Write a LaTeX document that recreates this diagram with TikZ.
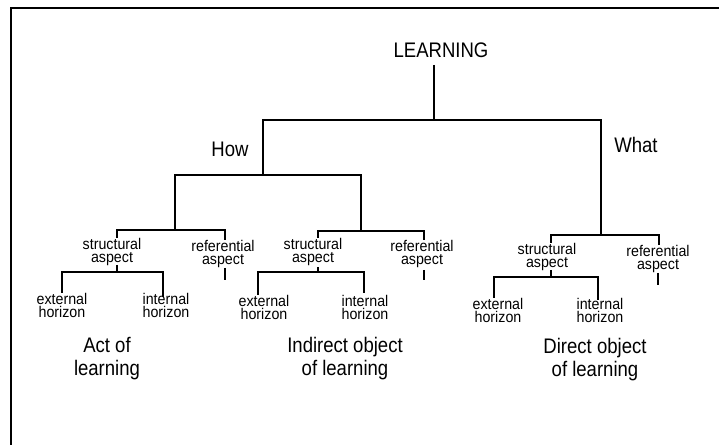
\documentclass[tikz,border=0pt]{standalone}
\usepackage{fontspec}
\setmainfont{Liberation Sans}
\newfontfamily\labelfont[FakeStretch=0.92]{Liberation Sans}
\newfontfamily\titlefont[FakeStretch=0.88]{Liberation Sans}
\begin{document}
\begin{tikzpicture}[x=0.75pt,y=-0.75pt,
  branch/.style={line width=1.4pt},
  frameline/.style={line width=1.9pt},
  small/.style={font=\labelfont\fontsize{11.6}{9.8}\selectfont, align=center, inner sep=0pt, anchor=north},
  big/.style={font=\titlefont\fontsize{15.8}{17.25}\selectfont, align=center, inner sep=0pt, anchor=north}]
\useasboundingbox (0,0) rectangle (719,445);
\fill[white] (0,0) rectangle (719,445);

% frame (top and left edges)
\draw[frameline] (11,445) |- (719,8);

% labels
\node[big] (learning) at (441,43) {LEARNING};
\node[big] (how) at (230,142) {How};
\node[big] (what) at (636,137) {What};

\node[small] (s1) at (112,238) {structural\\aspect};
\node[small] (r1) at (223,240) {referential\\aspect};
\node[small] (e1) at (62,293) {external\\horizon};
\node[small] (i1) at (166,293) {internal\\horizon};
\node[big] (act) at (107,337) {Act of\\learning};

\node[small] (s2) at (313,238) {structural\\aspect};
\node[small] (r2) at (422,240) {referential\\aspect};
\node[small] (e2) at (264,295) {external\\horizon};
\node[small] (i2) at (365,295) {internal\\horizon};
\node[big] (indirect) at (345,337) {Indirect object\\of learning};

\node[small] (s3) at (547,243) {structural\\aspect};
\node[small] (r3) at (658,245) {referential\\aspect};
\node[small] (e3) at (498,298) {external\\horizon};
\node[small] (i3) at (600,298) {internal\\horizon};
\node[big] (direct) at (595,338) {Direct object\\of learning};

% junctions and line ends
\coordinate (L0) at (434,65);
\coordinate (J0) at (434,120);
\coordinate (Hw) at (263,175);
\coordinate (Wt) at (601,235);
\coordinate (A1) at (175,230);
\coordinate (A2) at (361,231);

\coordinate (s1top) at (117,238);
\coordinate (r1top) at (225,240);
\coordinate (r1a) at (225,268);
\coordinate (r1b) at (225,280);
\coordinate (s1bot) at (117,265);
\coordinate (B1) at (117,272);
\coordinate (e1top) at (62,293);
\coordinate (i1top) at (163,297);

\coordinate (s2top) at (318,238);
\coordinate (r2top) at (424,240);
\coordinate (r2a) at (424,270);
\coordinate (r2b) at (424,280);
\coordinate (s2bot) at (318,267);
\coordinate (B2) at (318,272);
\coordinate (e2top) at (258,295);
\coordinate (i2top) at (364,293);

\coordinate (s3top) at (551,243);
\coordinate (r3top) at (659,245);
\coordinate (r3a) at (658,273);
\coordinate (r3b) at (658,285);
\coordinate (s3bot) at (551,270);
\coordinate (B3) at (551,277);
\coordinate (e3top) at (494,298);
\coordinate (i3top) at (598,300);

% top level
\draw[branch] (L0) -- (J0);
\draw[branch] (Hw) |- (J0) -| (Wt);
\draw[branch] (A1) |- (Hw) -| (A2);

% how: first branch
\draw[branch] (s1top) |- (A1) -| (r1top);
\draw[branch] (r1a) -- (r1b);
\draw[branch] (s1bot) -- (B1);
\draw[branch] (e1top) |- (B1) -| (i1top);

% how: second branch
\draw[branch] (s2top) |- (A2) -| (r2top);
\draw[branch] (r2a) -- (r2b);
\draw[branch] (s2bot) -- (B2);
\draw[branch] (e2top) |- (B2) -| (i2top);

% what
\draw[branch] (s3top) |- (Wt) -| (r3top);
\draw[branch] (r3a) -- (r3b);
\draw[branch] (s3bot) -- (B3);
\draw[branch] (e3top) |- (B3) -| (i3top);
\end{tikzpicture}
\end{document}
